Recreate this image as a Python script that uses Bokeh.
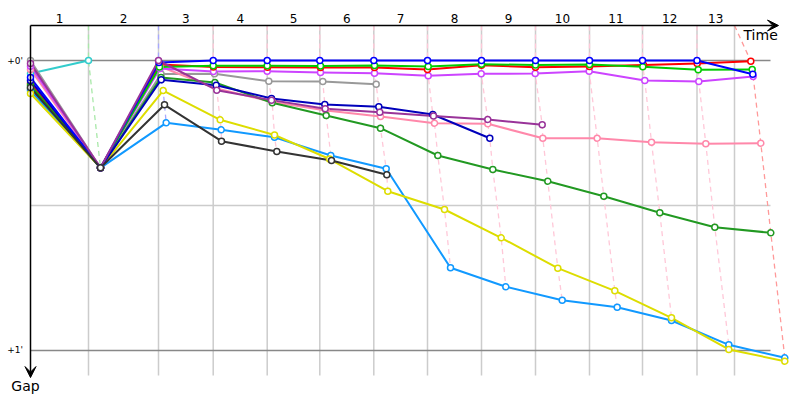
from bokeh.plotting import figure
from bokeh.models import Range1d, Arrow, VeeHead
from bokeh.embed import file_html
from bokeh.resources import INLINE
from bokeh.core.properties import value

# ---------------- data ----------------
# leader lap-completion times (s) -> vertical guides
lap_marks = [116, 256, 365.4, 473.4, 578.6, 686.6, 794, 902, 1010, 1118, 1224, 1333, 1408]
lap_labels = [str(i) for i in range(1, 14)]
gap_ticks = [0, 30, 60]                # seconds
gap_tick_labels = ["+0'", "", "+1'"]
lap_line_colors = ["#a8e8a8", "#a8a8ff"] + ["#ffc8d8"] * 10 + ["#ff9a9a"]

# per driver: cumulative time (s) at end of each lap (lap 0 = start) and gap (s)
cyan_t = [0, 116]
cyan_g = [2.7, 0]
gray_t = [0, 140, 261, 368, 476.6, 584.6, 691.4]
gray_g = [0, 22.2, 2.8, 2.75, 4.3, 4.35, 4.9]
purple_t = [0, 140, 256, 372.6, 482, 589.4, 698.6, 806, 914.6, 1023.4]
purple_g = [0.6, 22.2, 0, 6.15, 8.2, 10.0, 10.7, 11.5, 12.2, 13.3]
magenta_t = [0, 140, 259, 366, 473.4, 580, 688, 795.4, 901.4, 1009.4, 1117.4, 1228.6, 1336.6, 1445.4]
magenta_g = [1.2, 22.2, 1.65, 2.28, 2.21, 2.48, 2.63, 3.17, 2.75, 2.69, 2.21, 4.14, 4.34, 3.31]
pink_t = [0, 140, 259, 372, 484, 591, 700, 808, 914.6, 1024.6, 1133.4, 1242, 1350.6, 1460.6]
pink_g = [1.86, 22.2, 1.24, 5.79, 8.59, 10.34, 11.59, 12.97, 13.1, 16.08, 16.08, 16.9, 17.23, 17.11]
dkgreen_t = [0, 140, 261, 369, 483.4, 591.4, 700, 814.6, 924.6, 1034.6, 1146.6, 1258.6, 1368.6, 1480.6]
dkgreen_g = [5.79, 22.2, 3.52, 4.55, 8.75, 11.38, 14.01, 19.66, 22.55, 24.97, 28.08, 31.51, 34.49, 35.65]
ltblue_t = [0, 140, 271.4, 381.4, 488, 600.6, 711.4, 840, 950.6, 1063.4, 1173.4, 1282, 1396.6, 1508.6]
ltblue_g = [6.21, 22.2, 12.89, 14.34, 15.9, 19.66, 22.41, 42.89, 46.82, 49.59, 51.04, 53.79, 58.82, 61.51]
yellow_t = [0, 140, 265.4, 379.4, 488, 598, 714.6, 828, 941.4, 1054.6, 1168.6, 1282, 1396.6, 1508.6]
yellow_g = [6.83, 22.2, 6.21, 12.27, 15.41, 20.38, 27.04, 30.83, 36.68, 42.97, 47.65, 53.24, 59.79, 62.21]
red_t = [0, 140, 258, 366, 474, 580, 688, 794, 902, 1010, 1118, 1226, 1333.4, 1440.6]
red_g = [4.76, 22.2, 0.83, 1.34, 1.39, 1.45, 1.45, 1.86, 0.97, 1.39, 1.24, 0.93, 0.62, 0.14]
green_t = [0, 140, 258, 365.4, 473.4, 580, 688, 795.4, 902, 1010, 1118, 1224.6, 1335.4, 1443.4]
green_g = [5.17, 22.2, 1.34, 1.10, 1.10, 1.14, 1.03, 1.24, 0.77, 0.93, 0.83, 1.30, 1.92, 1.86]
navy_t = [0, 140, 261.4, 371.4, 482, 588.6, 696.6, 804.6, 918.6]
navy_g = [4.14, 22.2, 3.99, 5.11, 7.86, 9.10, 9.58, 11.17, 16.08]
blue_t = [0, 140, 257, 365.4, 473.4, 578.6, 686.6, 794, 902, 1010, 1118, 1224, 1333, 1444.6]
blue_g = [3.52, 22.2, 0.41, 0, 0, 0, 0, 0, 0, 0, 0, 0, 0, 2.83]
black_t = [0, 140, 268, 382, 492.6, 602, 712.6]
black_g = [5.59, 22.2, 9.17, 16.70, 18.83, 20.69, 23.65]

series = [
    ("#33cccc", cyan_t, cyan_g),
    ("#999999", gray_t, gray_g),
    ("#ff88aa", pink_t, pink_g),
    ("#cc44ff", magenta_t, magenta_g),
    ("#229922", dkgreen_t, dkgreen_g),
    ("#1199ff", ltblue_t, ltblue_g),
    ("#dddd00", yellow_t, yellow_g),
    ("#ff0000", red_t, red_g),
    ("#00cc00", green_t, green_g),
    ("#0000bb", navy_t, navy_g),
    ("#0000ff", blue_t, blue_g),
    ("#993399", purple_t, purple_g),
    ("#333333", black_t, black_g),
]

# ---------------- figure ----------------
T0, T1 = -60, 1540          # time range across the 800 px
G_TOP, G_BOT = -12.414, 70.345
top_gap = -7.24             # where the time axis sits
bottom_gap = 65.17          # end of vertical guides
axis_end_t = 1496
grid_end_t = 1480

p = figure(width=800, height=400, output_backend="svg", toolbar_location=None,
           x_range=Range1d(T0, T1), y_range=Range1d(G_BOT, G_TOP),
           min_border=0, min_border_left=0, min_border_right=0,
           min_border_top=0, min_border_bottom=0)
p.axis.visible = False
p.xgrid.visible = False
p.ygrid.visible = False
p.outline_line_color = None
p.background_fill_color = "white"
p.border_fill_color = "white"

# vertical guides
for t in lap_marks:
    p.line([t, t], [top_gap, bottom_gap], line_color="#cccccc", line_width=1.5)
# horizontal gap guides
for g, lab in zip(gap_ticks, gap_tick_labels):
    col = "#888888" if lab else "#cccccc"
    p.line([0, grid_end_t], [g, g], line_color=col, line_width=1.5)

# lap lines (dashed)
for k in range(1, len(lap_marks) + 1):
    pts = [(ts[k], gs[k]) for _, ts, gs in series if len(ts) > k]
    pts.sort(key=lambda q: q[1])
    xs = [lap_marks[k - 1]] + [q[0] for q in pts]
    ys = [top_gap] + [q[1] for q in pts]
    p.line(xs, ys, line_color=lap_line_colors[k - 1], line_width=1.3, line_dash="5 4")

# series lines then markers
for col, ts, gs in series:
    p.line(ts, gs, line_color=col, line_width=2, line_join="round")
for col, ts, gs in series:
    p.scatter(ts, gs, marker="circle", size=6, fill_color="white",
              line_color=col, line_width=1.5)

# axes with arrows
p.add_layout(Arrow(end=VeeHead(size=11, fill_color="black", line_color="black"),
                   x_start=0, y_start=top_gap, x_end=axis_end_t, y_end=top_gap,
                   line_color="black", line_width=1.5))
p.add_layout(Arrow(end=VeeHead(size=11, fill_color="black", line_color="black"),
                   x_start=0, y_start=top_gap, x_end=0, y_end=65.6,
                   line_color="black", line_width=1.5))

# lap labels
lx = []
prev = 0
for t in lap_marks:
    lx.append((prev + t) / 2)
    prev = t
p.text(lx, [-8.69] * len(lx), text=lap_labels, text_align="center",
       text_baseline="middle", text_font=value("DejaVu Sans"),
       text_font_size="12px", text_color="black")

# gap labels
gl = [l for l in gap_tick_labels if l]
gv = [g for g, l in zip(gap_ticks, gap_tick_labels) if l]
p.text([-15] * len(gv), gv, text=gl, text_align="right", text_baseline="middle",
       text_font=value("DejaVu Sans"), text_font_size="9px", text_color="black")

p.text([1426], [-5.2], text=["Time"], text_align="left", text_baseline="middle",
       text_font=value("DejaVu Sans"), text_font_size="14px", text_color="black")
p.text([-10], [67.3], text=["Gap"], text_align="center", text_baseline="middle",
       text_font=value("DejaVu Sans"), text_font_size="14px", text_color="black")

open("out.html", "w").write(file_html(p, INLINE))
